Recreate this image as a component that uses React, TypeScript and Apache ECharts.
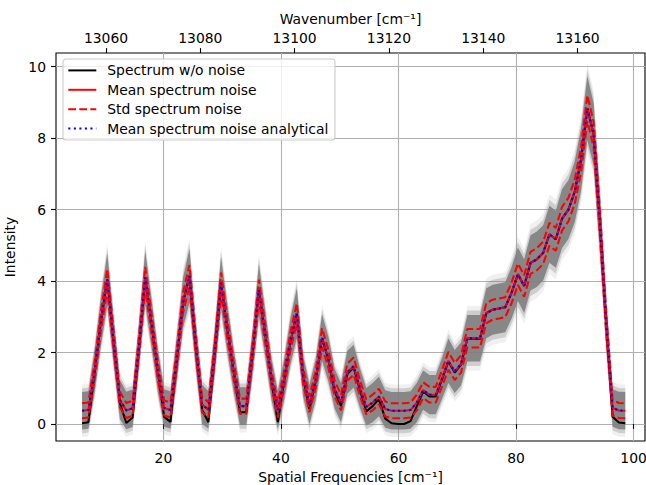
import React, { useEffect, useRef } from "react";
import * as echarts from "echarts";

// Spatial frequency sample positions [cm^-1]
const spatialFreq = [
  6.16, 7.23, 8.31, 9.38, 10.45, 11.53, 12.6, 13.68, 14.75, 15.83,
  16.9, 17.98, 19.05, 20.13, 21.2, 22.28, 23.35, 24.43, 25.5, 26.58,
  27.65, 28.73, 29.8, 30.88, 31.95, 33.03, 34.1, 35.18, 36.25, 37.33,
  38.4, 39.47, 40.55, 41.62, 42.7, 43.77, 44.85, 45.92, 47.0, 48.07,
  49.15, 50.22, 51.3, 52.37, 53.45, 54.52, 55.6, 56.67, 57.75, 58.82,
  59.9, 60.97, 62.05, 63.12, 64.2, 65.27, 66.34, 67.42, 68.49, 69.57,
  70.64, 71.72, 72.79, 73.87, 74.94, 76.02, 77.09, 78.17, 79.24, 80.32,
  81.39, 82.47, 83.54, 84.62, 85.69, 86.77, 87.84, 88.92, 89.99, 91.07,
  92.14, 93.21, 94.29, 95.36, 96.44, 97.51, 98.59,
];

// Spectrum without noise
const spectrumClean = [
  0.02, 0.05, 1.45, 2.9, 4.05, 2.3, 0.58, 0.03, 0.18, 2.15,
  4.1, 2.8, 1.45, 0.2, 0.06, 1.8, 3.4, 4.15, 2.2, 0.4,
  0.05, 2.0, 3.95, 2.65, 1.45, 0.33, 0.33, 2.0, 3.75, 2.5,
  1.2, 0.05, 1.2, 2.3, 3.1, 1.3, 0.42, 1.2, 2.4, 1.8,
  0.9, 0.5, 1.4, 1.58, 0.95, 0.35, 0.5, 0.7, 0.15, 0.02,
  0.0, 0.0, 0.08, 0.5, 0.91, 0.77, 0.77, 1.25, 1.75, 1.44,
  1.66, 2.39, 2.39, 2.38, 3.1, 3.2, 3.23, 3.27, 3.67, 4.19,
  3.86, 4.51, 4.61, 4.79, 5.31, 5.17, 5.75, 6.0, 6.5, 7.4,
  8.84, 8.1, 5.6, 2.8, 0.2, 0.04, 0.02,
];

// Mean of the noisy spectra (numerical; the analytical mean coincides)
const meanNoise = [
  0.37, 0.39, 1.5, 2.9, 4.05, 2.32, 0.68, 0.38, 0.44, 2.17,
  4.1, 2.82, 1.5, 0.45, 0.39, 1.84, 3.4, 4.15, 2.22, 0.55,
  0.39, 2.02, 3.95, 2.67, 1.5, 0.5, 0.5, 2.02, 3.75, 2.52,
  1.25, 0.39, 1.25, 2.32, 3.1, 1.35, 0.55, 1.25, 2.42, 1.82,
  0.98, 0.6, 1.45, 1.62, 1.0, 0.48, 0.6, 0.77, 0.42, 0.37,
  0.37, 0.37, 0.39, 0.6, 0.95, 0.82, 0.82, 1.28, 1.77, 1.47,
  1.68, 2.4, 2.4, 2.4, 3.1, 3.2, 3.23, 3.27, 3.67, 4.19,
  3.86, 4.51, 4.61, 4.79, 5.31, 5.17, 5.75, 6.0, 6.5, 7.4,
  8.84, 8.1, 5.6, 2.8, 0.45, 0.38, 0.37,
];

// Standard deviation of the noisy spectra
const stdNoise = [
  0.21, 0.21, 0.24, 0.27, 0.29, 0.26, 0.22, 0.21, 0.21, 0.25,
  0.3, 0.27, 0.24, 0.21, 0.21, 0.25, 0.28, 0.3, 0.26, 0.22,
  0.21, 0.25, 0.29, 0.27, 0.24, 0.21, 0.21, 0.25, 0.29, 0.26,
  0.23, 0.21, 0.23, 0.26, 0.28, 0.23, 0.22, 0.23, 0.26, 0.25,
  0.22, 0.22, 0.24, 0.24, 0.22, 0.21, 0.22, 0.22, 0.21, 0.21,
  0.21, 0.21, 0.21, 0.22, 0.22, 0.22, 0.22, 0.23, 0.25, 0.24,
  0.24, 0.26, 0.26, 0.26, 0.28, 0.28, 0.28, 0.28, 0.29, 0.3,
  0.3, 0.31, 0.31, 0.31, 0.32, 0.32, 0.33, 0.33, 0.34, 0.35,
  0.36, 0.35, 0.33, 0.27, 0.21, 0.21, 0.21,
];

const xTicks = [20, 40, 60, 80, 100];
const yTicks = [0, 2, 4, 6, 8, 10];
const wavenumberTicks = [13060, 13080, 13100, 13120, 13140, 13160];

const seriesNames = [
  "Spectrum w/o noise",
  "Mean spectrum noise",
  "Std spectrum noise",
  "Mean spectrum noise analytical",
];

const X_MIN = 1.72;
const X_MAX = 101.95;
const WN_MIN = 13049.4;
const WN_MAX = 13174.3;
const Y_MIN = -0.476;
const Y_MAX = 10.384;

const FONT = "DejaVu Sans";
const FS = 13.9;
const LW = 2.08;

export default function App() {
  const ref = useRef<HTMLDivElement>(null);

  useEffect(() => {
    document.body.style.margin = "0";
    const chart = echarts.init(ref.current as HTMLDivElement, null, { renderer: "svg" });

    const pairs = (ys: number[]) => spatialFreq.map((x, i) => [x, ys[i]]);
    const upperStd = meanNoise.map((m, i) => m + stdNoise[i]);
    const lowerStd = meanNoise.map((m, i) => m - stdNoise[i]);

    const bandLayers = [
      { k: 3.5, color: "rgba(128,128,128,0.12)" },
      { k: 3.0, color: "rgba(128,128,128,0.3)" },
      { k: 2.5, color: "rgba(128,128,128,0.9)" },
    ];

    const labelStyle = { color: "#000", fontSize: FS, fontFamily: FONT };
    const tickStyle = { color: "#000", width: 1.1 };

    const lineSeries = (name: string, ys: number[], color: string, type: any) => ({
      type: "line",
      name,
      data: pairs(ys),
      xAxisIndex: 0,
      yAxisIndex: 0,
      symbol: "none",
      showSymbol: false,
      color,
      itemStyle: { color },
      lineStyle: { color, width: LW, type },
      z: 3,
    });

    const option: any = {
      animation: false,
      textStyle: { fontFamily: FONT },
      grid: {
        left: 56,
        right: 1,
        top: 53,
        bottom: 44,
        show: true,
        borderColor: "#000",
        borderWidth: 1.1,
        backgroundColor: "transparent",
        outerBoundsMode: "none",
        containLabel: false,
      },
      legend: {
        show: true,
        data: seriesNames,
        orient: "vertical",
        left: 63,
        top: 59,
        padding: [4.4, 6.7, 4.4, 4.3],
        itemWidth: 28,
        itemHeight: 14,
        itemGap: 5.4,
        backgroundColor: "rgba(255,255,255,0.8)",
        borderColor: "#cccccc",
        borderWidth: 1.1,
        borderRadius: 3,
        selectedMode: false,
        itemStyle: { opacity: 0, borderWidth: 0 },
        textStyle: {
          fontFamily: FONT,
          fontSize: FS,
          color: "#000",
          lineHeight: 14,
          padding: [0, 0, 0, 6],
        },
      },
      xAxis: [
        {
          type: "value",
          position: "bottom",
          gridIndex: 0,
          min: X_MIN,
          max: X_MAX,
          name: "Spatial Frequencies [cm⁻¹]",
          nameLocation: "middle",
          nameGap: 24,
          nameTextStyle: labelStyle,
          axisLine: { show: false },
          axisTick: { show: true, inside: false, length: 4.9, lineStyle: tickStyle, customValues: xTicks },
          axisLabel: { ...labelStyle, margin: 10, customValues: xTicks },
          splitLine: { show: true, lineStyle: { color: "#b0b0b0", width: 1.1 } },
        },
        {
          type: "value",
          position: "top",
          gridIndex: 0,
          min: WN_MIN,
          max: WN_MAX,
          name: "Wavenumber [cm⁻¹]",
          nameLocation: "middle",
          nameGap: 18,
          nameTextStyle: labelStyle,
          axisLine: { show: false },
          axisTick: { show: true, inside: false, length: 4.9, lineStyle: tickStyle, customValues: wavenumberTicks },
          axisLabel: {
            ...labelStyle,
            margin: 8,
            customValues: wavenumberTicks,
            formatter: (v: number) => String(Math.round(v)),
          },
          splitLine: { show: false },
        },
      ],
      yAxis: {
        type: "value",
        min: Y_MIN,
        max: Y_MAX,
        name: "Intensity",
        nameLocation: "middle",
        nameRotate: 90,
        nameGap: 23,
        nameTextStyle: labelStyle,
        axisLine: { show: false },
        axisTick: { show: true, inside: false, length: 4.9, lineStyle: tickStyle, customValues: yTicks },
        axisLabel: { ...labelStyle, margin: 10, customValues: yTicks },
        splitLine: { show: true, lineStyle: { color: "#b0b0b0", width: 1.1 } },
      },
      series: [
        {
          type: "custom",
          name: "noise realisations",
          xAxisIndex: 0,
          yAxisIndex: 0,
          silent: true,
          clip: true,
          data: [[spatialFreq[0], meanNoise[0]]],
          encode: { x: 0, y: 1 },
          z: 1,
          renderItem: (_params: any, api: any) => {
            const children = bandLayers.map((layer) => {
              const top = spatialFreq.map((x, i) => api.coord([x, meanNoise[i] + layer.k * stdNoise[i]]));
              const bottom = spatialFreq
                .map((x, i) => api.coord([x, meanNoise[i] - layer.k * stdNoise[i]]))
                .reverse();
              return {
                type: "polygon",
                shape: { points: top.concat(bottom) },
                style: { fill: layer.color, stroke: null },
              };
            });
            return { type: "group", children };
          },
        },
        lineSeries(seriesNames[0], spectrumClean, "#000000", "solid"),
        lineSeries(seriesNames[1], meanNoise, "#ff0000", "solid"),
        lineSeries(seriesNames[2], upperStd, "#ff0000", [7.7, 3.3]),
        lineSeries(seriesNames[2], lowerStd, "#ff0000", [7.7, 3.3]),
        lineSeries(seriesNames[3], meanNoise, "#0000ff", [2.08, 3.44]),
      ],
    };

    chart.setOption(option);
    return () => {
      chart.dispose();
    };
  }, []);

  return (
    <div
      ref={ref}
      style={{ position: "fixed", left: 0, top: 0, width: 646, height: 485, background: "#fff" }}
    />
  );
}
